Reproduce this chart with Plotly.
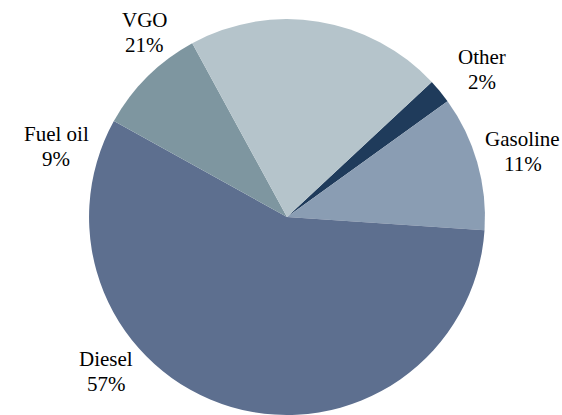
import plotly.graph_objects as go

# Product yield shares (percent)
products = ["Other", "Gasoline", "Diesel", "Fuel oil", "VGO"]
shares = [2, 11, 57, 9, 21]
slice_colors = ["#1f3b5b", "#8a9db3", "#5d6f8f", "#7e96a0", "#b5c4cb"]

# Label anchor points in paper coordinates, one per product
label_x = [0.858, 0.930, 0.189, 0.100, 0.258]
label_y = [0.833, 0.635, 0.105, 0.648, 0.922]

SERIF = "Times New Roman"

fig = go.Figure(
    go.Pie(
        labels=products,
        values=shares,
        sort=False,
        direction="clockwise",
        rotation=47,
        marker=dict(colors=slice_colors, line=dict(width=0)),
        textinfo="none",
        hoverinfo="label+percent",
        showlegend=False,
        domain=dict(x=[89 / 562, 485 / 562], y=[0, 0.954]),
    )
)

label_font = dict(family=SERIF, size=21, color="black")
for name, val, x, y in zip(products, shares, label_x, label_y):
    # product name on the upper line, share on the lower line
    fig.add_annotation(
        x=x, y=y, xref="paper", yref="paper", yshift=12,
        text=name, showarrow=False,
        xanchor="center", yanchor="middle", font=label_font,
    )
    fig.add_annotation(
        x=x, y=y, xref="paper", yref="paper", yshift=-13,
        text=f"{val}%", showarrow=False,
        xanchor="center", yanchor="middle", font=label_font,
    )

fig.update_layout(
    template="none",
    width=562, height=415,
    margin=dict(l=0, r=0, t=0, b=0),
    font=dict(family=SERIF, size=21, color="black"),
    xaxis=dict(visible=False),
    yaxis=dict(visible=False),
    paper_bgcolor="white",
    plot_bgcolor="white",
)

fig.write_html("out.html")
